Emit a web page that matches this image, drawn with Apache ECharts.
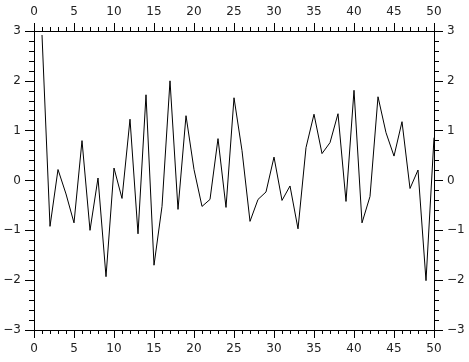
<!DOCTYPE html>
<html>
<head>
<meta charset="utf-8">
<script src="https://cdn.jsdelivr.net/npm/echarts@6/dist/echarts.min.js"></script>
<style>html,body{margin:0;padding:0;background:#fff}#c{width:469px;height:362px}</style>
</head>
<body>
<div id="c"></div>
<script>
const xValues = [1,2,3,4,5,6,7,8,9,10,11,12,13,14,15,16,17,18,19,20,21,22,23,24,25,26,27,28,29,30,31,32,33,34,35,36,37,38,39,40,41,42,43,44,45,46,47,48,49,50];
const yValues = [2.92,-0.92,0.22,-0.27,-0.85,0.8,-1.0,0.05,-1.93,0.25,-0.36,1.23,-1.07,1.72,-1.70,-0.52,2.0,-0.58,1.3,0.22,-0.52,-0.38,0.84,-0.54,1.66,0.6,-0.82,-0.38,-0.23,0.47,-0.4,-0.11,-0.97,0.66,1.33,0.54,0.76,1.34,-0.42,1.81,-0.85,-0.32,1.68,0.96,0.49,1.18,-0.16,0.21,-2.01,0.86];
const xMin = 0, xMax = 50, xStep = 5;
const yMin = -3, yMax = 3, yStep = 1;

const chart = echarts.init(document.getElementById('c'), null, {renderer: 'canvas'});
const labelStyle = {color: '#222', fontFamily: 'DejaVu Sans', fontSize: 12, margin: 13,
  formatter: v => String(v).replace('-', '\u2212')};
const lineStyle = {color: '#000', width: 1};
function xAx(pos) {
  return {type: 'value', position: pos, min: xMin, max: xMax, interval: xStep,
    axisLine: {show: true, onZero: false, lineStyle},
    axisTick: {show: true, inside: false, length: 8, lineStyle},
    minorTick: {show: true, splitNumber: 5, length: 4, lineStyle},
    splitLine: {show: false}, minorSplitLine: {show: false},
    axisLabel: labelStyle};
}
function yAx(pos) {
  return {type: 'value', position: pos, min: yMin, max: yMax, interval: yStep,
    axisLine: {show: true, onZero: false, lineStyle},
    axisTick: {show: true, inside: false, length: 9, lineStyle},
    minorTick: {show: true, splitNumber: 5, length: 5, lineStyle},
    splitLine: {show: false}, minorSplitLine: {show: false},
    axisLabel: labelStyle};
}
chart.setOption({
  animation: false,
  backgroundColor: '#fff',
  grid: {left: 34, right: 35, top: 31, bottom: 32, containLabel: false},
  xAxis: [xAx('bottom'), xAx('top')],
  yAxis: [yAx('left'), yAx('right')],
  series: [{
    type: 'line',
    data: xValues.map((x, i) => [x, yValues[i]]),
    xAxisIndex: 0, yAxisIndex: 0,
    showSymbol: false, symbol: 'none',
    lineStyle: {color: '#000', width: 1},
    itemStyle: {color: '#000'}
  }]
});
</script>
</body>
</html>
